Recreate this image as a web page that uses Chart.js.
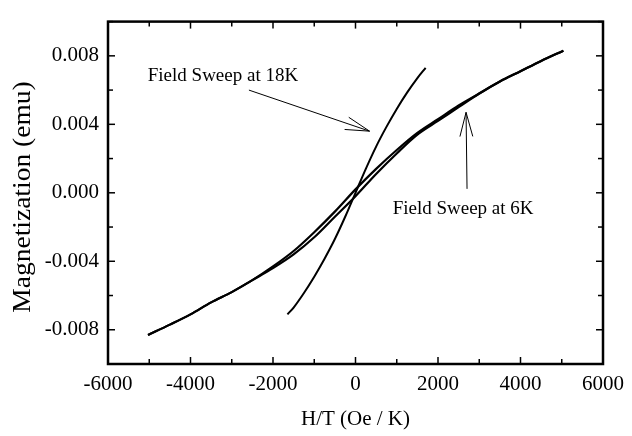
<!DOCTYPE html>
<html>
<head>
<meta charset="utf-8">
<script src="https://cdn.jsdelivr.net/npm/chart.js@4.4.1/dist/chart.umd.min.js"></script>
<style>
  html, body { margin: 0; padding: 0; background: #fff; }
</style>
</head>
<body>
<canvas id="chart" width="632" height="436"></canvas>
<script>
// H/T (Oe/K) vs magnetization (emu)
const sweep18K = [
  [-1650, -0.0071], [-1500, -0.0067], [-1250, -0.00585], [-1000, -0.0049],
  [-750, -0.00385], [-500, -0.0027], [-250, -0.0014], [0, 0.0000],
  [250, 0.0014], [500, 0.0027], [750, 0.00385], [1000, 0.0049],
  [1250, 0.00585], [1500, 0.0067], [1700, 0.0073]
];

// 6K loop, increasing field branch
const sweep6KUp = [
  [-5030, -0.0083], [-4500, -0.0077], [-4000, -0.0071], [-3500, -0.0064],
  [-3000, -0.0058], [-2500, -0.0051], [-2000, -0.0044], [-1500, -0.0036],
  [-1000, -0.0026], [-500, -0.0014], [0, -0.0002], [500, 0.0011],
  [1000, 0.0023], [1500, 0.0034], [2000, 0.0042], [2500, 0.0050],
  [3000, 0.0058], [3500, 0.0065], [4000, 0.0071], [4500, 0.0077],
  [5040, 0.0083]
];

// 6K loop, decreasing field branch
const sweep6KDown = [
  [5040, 0.0083], [4500, 0.0077], [4000, 0.0071], [3500, 0.0065],
  [3000, 0.0058], [2500, 0.0051], [2000, 0.0043], [1500, 0.0035],
  [1000, 0.0025], [500, 0.0014], [0, 0.0002], [-500, -0.0011],
  [-1000, -0.0023], [-1500, -0.0034], [-2000, -0.0043], [-2500, -0.0051],
  [-3000, -0.0058], [-3500, -0.0064], [-4000, -0.0071], [-4500, -0.0077],
  [-5030, -0.0083]
];

const xTicks = [-6000, -4000, -2000, 0, 2000, 4000, 6000];
const xMinor = [-5000, -3000, -1000, 1000, 3000, 5000];
const yTicks = [-0.008, -0.004, 0, 0.004, 0.008];
const yMinor = [-0.010, -0.006, -0.002, 0.002, 0.006, 0.010];

const SERIF = '"Liberation Serif", "Times New Roman", serif';
Chart.defaults.font.family = SERIF;
Chart.defaults.color = '#000';

const toPts = arr => arr.map(([h, m]) => ({ x: h, y: m }));

const curve = (data, width) => ({
  data: toPts(data),
  showLine: true,
  borderColor: '#000',
  borderWidth: width,
  pointRadius: 0,
  cubicInterpolationMode: 'monotone',
  fill: false
});

function line(ctx, x1, y1, x2, y2) {
  ctx.beginPath();
  ctx.moveTo(x1, y1);
  ctx.lineTo(x2, y2);
  ctx.stroke();
}

function arrow(ctx, x1, y1, x2, y2) {
  line(ctx, x1, y1, x2, y2);
  const ang = Math.atan2(y2 - y1, x2 - x1);
  const len = 25, spread = 0.26;
  line(ctx, x2, y2, x2 - len * Math.cos(ang - spread), y2 - len * Math.sin(ang - spread));
  line(ctx, x2, y2, x2 - len * Math.cos(ang + spread), y2 - len * Math.sin(ang + spread));
}

const frameAndNotes = {
  id: 'frameAndNotes',
  afterDatasetsDraw(chart) {
    const { ctx, chartArea: a, scales: { x, y } } = chart;
    ctx.save();
    ctx.strokeStyle = '#000';
    ctx.lineWidth = 1.5;

    // inward ticks, mirrored on all sides
    const xt = (v, len) => {
      const p = x.getPixelForValue(v);
      line(ctx, p, a.bottom, p, a.bottom - len);
      line(ctx, p, a.top, p, a.top + len);
    };
    const yt = (v, len) => {
      const p = y.getPixelForValue(v);
      line(ctx, a.left, p, a.left + len, p);
      line(ctx, a.right, p, a.right - len, p);
    };
    xTicks.forEach(v => xt(v, 7));
    xMinor.forEach(v => xt(v, 5));
    yTicks.forEach(v => yt(v, 7));
    yMinor.forEach(v => yt(v, 5));

    ctx.lineWidth = 2.5;
    ctx.strokeRect(a.left, a.top, a.right - a.left, a.bottom - a.top);

    // y axis title, slightly stretched like the original
    ctx.fillStyle = '#000';
    ctx.save();
    ctx.translate(23, 197);
    ctx.rotate(-Math.PI / 2);
    ctx.scale(1.1, 1);
    ctx.font = '25px ' + SERIF;
    ctx.textAlign = 'center';
    ctx.textBaseline = 'middle';
    ctx.fillText('Magnetization (emu)', 0, 0);
    ctx.restore();

    // annotations
    ctx.font = '19px ' + SERIF;
    ctx.textBaseline = 'middle';
    ctx.textAlign = 'left';
    ctx.fillText('Field Sweep at 18K', x.getPixelForValue(-5036), y.getPixelForValue(0.0068));
    ctx.fillText('Field Sweep at 6K', x.getPixelForValue(900), y.getPixelForValue(-0.00097));

    ctx.lineWidth = 1;
    arrow(ctx, x.getPixelForValue(-2584), y.getPixelForValue(0.0060),
               x.getPixelForValue(341), y.getPixelForValue(0.0036));
    arrow(ctx, x.getPixelForValue(2704), y.getPixelForValue(0.00023),
               x.getPixelForValue(2680), y.getPixelForValue(0.0047));
    ctx.restore();
  }
};

new Chart(document.getElementById('chart'), {
  type: 'scatter',
  data: {
    datasets: [
      curve(sweep6KUp, 2.2),
      curve(sweep6KDown, 2.2),
      curve(sweep18K, 2)
    ]
  },
  options: {
    responsive: false,
    animation: false,
    layout: { padding: { left: 0, right: 25, top: 14, bottom: 0 } },
    plugins: { legend: { display: false }, tooltip: { enabled: false } },
    scales: {
      x: {
        type: 'linear',
        min: -6000,
        max: 6000,
        afterBuildTicks: s => { s.ticks = xTicks.map(v => ({ value: v })); },
        afterFit: s => { s.height = 72; },
        grid: { display: false, drawTicks: false },
        border: { display: false },
        ticks: { font: { size: 21 }, padding: 8, maxRotation: 0, callback: v => String(v) },
        title: { display: true, text: 'H/T (Oe / K)', font: { size: 21 }, padding: { top: 0, bottom: 4 } }
      },
      y: {
        type: 'linear',
        min: -0.010,
        max: 0.010,
        afterBuildTicks: s => { s.ticks = yTicks.map(v => ({ value: v })); },
        afterFit: s => { s.width = 108; },
        grid: { display: false, drawTicks: false },
        border: { display: false },
        ticks: { font: { size: 21 }, padding: 9, callback: v => v.toFixed(3) }
      }
    }
  },
  plugins: [frameAndNotes]
});
</script>
</body>
</html>
